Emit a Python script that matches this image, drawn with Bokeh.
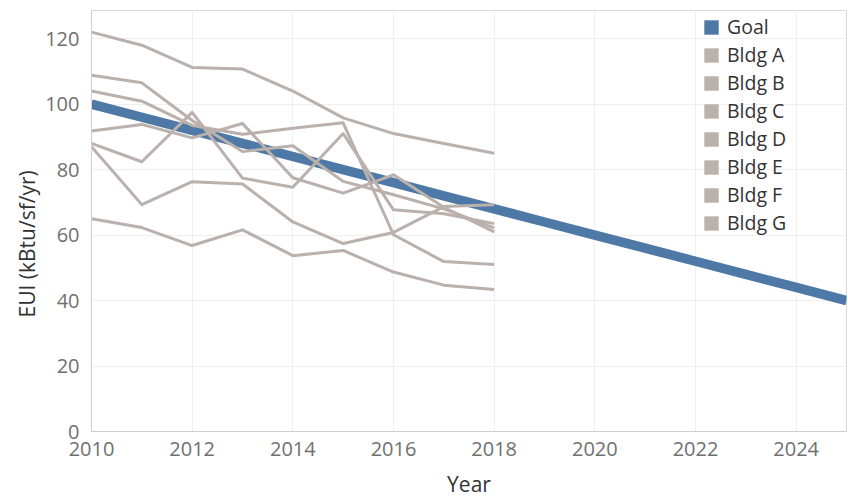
from bokeh.plotting import figure
from bokeh.models import FixedTicker, Legend, LegendItem, ColumnDataSource, Title
from bokeh.embed import file_html
from bokeh.resources import INLINE

# ---- data ----
years = [2010, 2011, 2012, 2013, 2014, 2015, 2016, 2017, 2018]
goal_years = [2010, 2011, 2012, 2013, 2014, 2015, 2016, 2017, 2018,
              2019, 2020, 2021, 2022, 2023, 2024, 2025]
goal = [100, 96, 92, 88, 84, 80, 76, 72, 68, 64, 60, 56, 52, 48, 44, 40]

bldg_a = [122.0, 118.0, 111.2, 110.7, 104.0, 95.8, 91.0, 88.0, 85.0]
bldg_b = [108.8, 106.5, 95.0, 85.5, 87.3, 76.4, 72.3, 68.0, 62.2]
bldg_c = [104.0, 100.9, 93.5, 90.8, 92.6, 94.3, 60.1, 51.9, 51.0]
bldg_d = [91.8, 93.8, 89.7, 94.1, 77.5, 72.8, 78.4, 68.5, 61.0]
bldg_e = [88.0, 82.4, 97.5, 77.4, 74.6, 91.0, 67.7, 66.5, 63.5]
bldg_f = [87.0, 69.3, 76.3, 75.6, 64.0, 57.4, 60.8, 68.7, 69.3]
bldg_g = [65.0, 62.3, 56.8, 61.6, 53.7, 55.3, 48.7, 44.7, 43.4]

bldg_names = ["Bldg A", "Bldg B", "Bldg C", "Bldg D", "Bldg E", "Bldg F", "Bldg G"]
bldg_values = [bldg_a, bldg_b, bldg_c, bldg_d, bldg_e, bldg_f, bldg_g]

x_ticks = [2010, 2012, 2014, 2016, 2018, 2020, 2022, 2024]
y_ticks = [0, 20, 40, 60, 80, 100, 120]

x_title = "Year"
y_title = "EUI (kBtu/sf/yr)"

GOAL_COLOR = "#4e79a7"
BLDG_COLOR = "#bab0ac"
FONT = "Open Sans"

p = figure(width=848, height=500, output_backend="svg", toolbar_location=None,
           x_range=(2010, 2025), y_range=(0, 128.6),
           min_border_left=91, min_border_right=2, min_border_top=10,
           min_border_bottom=68)

p.outline_line_color = "#d9d9d9"
p.outline_line_width = 1

p.xgrid.ticker = FixedTicker(ticks=x_ticks)
p.ygrid.ticker = FixedTicker(ticks=y_ticks)
p.xgrid.grid_line_color = "#efefef"
p.ygrid.grid_line_color = "#efefef"
p.xgrid.grid_line_width = 1
p.ygrid.grid_line_width = 1

p.xaxis.ticker = FixedTicker(ticks=x_ticks)
p.yaxis.ticker = FixedTicker(ticks=y_ticks)
p.xaxis.axis_label = x_title

for ax in (p.xaxis, p.yaxis):
    ax.axis_line_color = "#cfcfcf"
    ax.major_tick_line_color = None
    ax.minor_tick_line_color = None
    ax.major_label_text_font = FONT
    ax.major_label_text_font_size = "20px"
    ax.major_label_text_color = "#707070"
    ax.axis_label_text_font = FONT
    ax.axis_label_text_font_size = "21px"
    ax.axis_label_text_font_style = "normal"
    ax.axis_label_text_color = "#333333"

p.xaxis.major_label_standoff = 4
p.yaxis.major_label_standoff = 6
p.xaxis.axis_label_standoff = 11

# y axis title, on the left side, starting some way above the frame bottom
p.add_layout(Title(text=y_title, align="left", offset=114, standoff=4,
                   text_font=FONT, text_font_size="21px",
                   text_font_style="normal", text_color="#333333"), "left")

# goal line
p.line(goal_years, goal, line_color=GOAL_COLOR, line_width=9.5, line_cap="butt")

# building lines
for vals in bldg_values:
    p.line(years, vals, line_color=BLDG_COLOR, line_width=3, line_join="round")

# legend swatches (renderers with no visible mark, used only by the legend)
nan = float("nan")
sw_data = dict(left=[nan], right=[nan], top=[nan], bottom=[nan])
goal_sw = p.quad(source=ColumnDataSource(dict(sw_data)), fill_color=GOAL_COLOR,
                 line_color=None)
bldg_sw = p.quad(source=ColumnDataSource(dict(sw_data)), fill_color=BLDG_COLOR,
                 line_color=None)

items = [LegendItem(label="Goal", renderers=[goal_sw], index=0)]
for name in bldg_names:
    items.append(LegendItem(label=name, renderers=[bldg_sw], index=0))

legend = Legend(items=items, location=(611, 195), orientation="vertical",
                glyph_width=18, glyph_height=18, label_standoff=7,
                label_height=18, spacing=1, padding=0, margin=0,
                label_text_font=FONT, label_text_font_size="19.5px",
                label_text_color="#333333",
                background_fill_alpha=0, border_line_color=None)
p.add_layout(legend, "center")

open("out.html", "w").write(file_html(p, INLINE))
